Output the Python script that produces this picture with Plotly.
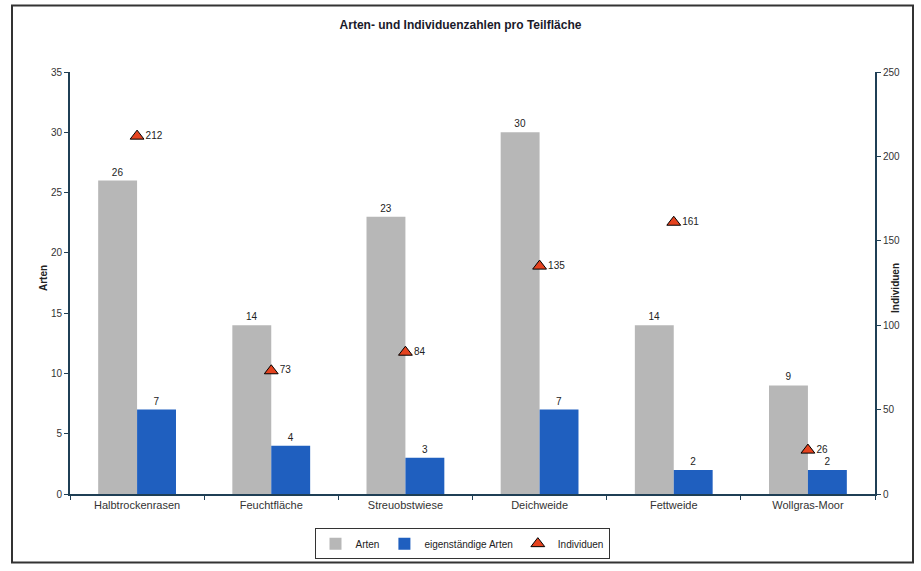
import plotly.graph_objects as go

categories = ["Halbtrockenrasen", "Feuchtfläche", "Streuobstwiese", "Deichweide", "Fettweide", "Wollgras-Moor"]
arten = [26, 14, 23, 30, 14, 9]
sig_arten = [7, 4, 3, 7, 2, 2]
individuen = [212, 73, 84, 135, 161, 26]
left_ticks = [0, 5, 10, 15, 20, 25, 30, 35]
right_ticks = [0, 50, 100, 150, 200, 250]

W, H = 921, 571
L, R, T, B = 70, 46, 72, 74
pw, ph = W - L - R, H - T - B

def px_x(x):
    return (x - L) / pw

def px_y(y):
    return (H - B - y) / ph

FONT = "Liberation Sans, Arial, sans-serif"
AX = "#1f3f55"

fig = go.Figure()
fig.add_trace(go.Bar(
    x=categories, y=arten, name="Arten",
    marker=dict(color="#b7b7b7", line=dict(width=0)),
    text=arten, textposition="outside", cliponaxis=False,
    textfont=dict(size=10, color="#222", family=FONT),
))
fig.add_trace(go.Bar(
    x=categories, y=sig_arten, name="eigenständige Arten",
    marker=dict(color="#1f5fbf", line=dict(width=0)),
    text=sig_arten, textposition="outside", cliponaxis=False,
    textfont=dict(size=10, color="#222", family=FONT),
))
fig.add_trace(go.Scatter(
    x=categories, y=individuen, name="Individuen", yaxis="y2",
    mode="markers+text",
    marker=dict(symbol="triangle-up", size=12, color="#e5431f",
                line=dict(color="#000", width=1)),
    text=individuen, textposition="middle right",
    textfont=dict(size=10, color="#222", family=FONT),
    cliponaxis=False,
))

fig.update_layout(
    width=W, height=H,
    margin=dict(l=L, r=R, t=T, b=B),
    paper_bgcolor="white", plot_bgcolor="white",
    barmode="group", bargap=0.42, bargroupgap=0,
    font=dict(family=FONT, size=10, color="#222"),
    title=dict(text="<b>Arten- und Individuenzahlen pro Teilfläche</b>",
               x=0.5, xanchor="center", y=1 - 25 / H, yanchor="middle",
               font=dict(size=12, color="#1a1a2a", family=FONT)),
    xaxis=dict(type="category", tickson="boundaries", ticks="outside", ticklen=4,
               tickcolor=AX, showline=True, linecolor=AX, linewidth=2,
               showgrid=False, tickfont=dict(size=11, color="#333")),
    yaxis=dict(range=[0, 35], tickvals=left_ticks, ticks="outside", ticklen=4,
               tickcolor=AX, showline=True, linecolor=AX, linewidth=2,
               showgrid=False, zeroline=False, tickfont=dict(size=10, color="#333")),
    yaxis2=dict(range=[0, 250], tickvals=right_ticks, overlaying="y", side="right",
                ticks="outside", ticklen=4, tickcolor=AX, showline=True,
                linecolor=AX, linewidth=2, showgrid=False, zeroline=False,
                tickfont=dict(size=10, color="#333")),
    legend=dict(orientation="h", x=px_x(462), xanchor="center", y=px_y(547),
                yanchor="middle", bordercolor="#333", borderwidth=1,
                font=dict(size=10, color="#222"), itemwidth=30,
                tracegroupgap=0),
    annotations=[
        dict(text="<b>Arten</b>", xref="paper", yref="paper", x=px_x(36), y=px_y(280),
             textangle=-90, showarrow=False, font=dict(size=10, color="#222")),
        dict(text="<b>Individuen</b>", xref="paper", yref="paper", x=px_x(903), y=px_y(290),
             textangle=-90, showarrow=False, font=dict(size=10, color="#222")),
    ],
    shapes=[
        dict(type="rect", xref="paper", yref="paper",
             x0=px_x(12), x1=px_x(913), y0=px_y(566), y1=px_y(5),
             line=dict(color="#333", width=2), fillcolor="rgba(0,0,0,0)", layer="below"),
    ],
)

fig.write_html("out.html")
